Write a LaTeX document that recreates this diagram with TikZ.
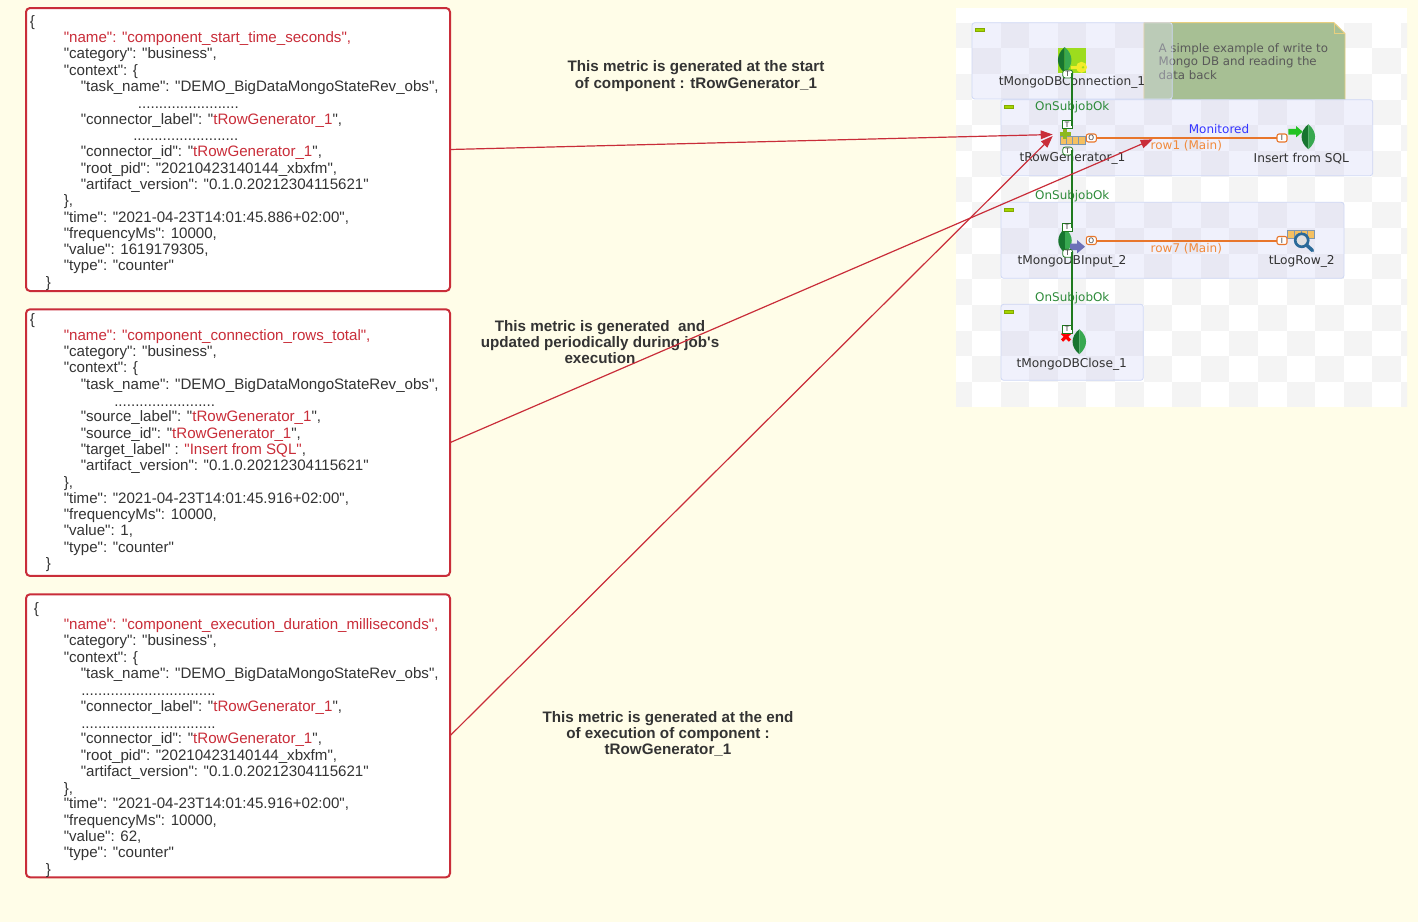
\documentclass[tikz,border=0pt]{standalone}
\usepackage{fontspec}
\setmainfont{Liberation Sans}[Ligatures=TeXOff]
\newfontfamily\djv{DejaVu Sans}
\usetikzlibrary{arrows.meta}
\definecolor{pagebg}{HTML}{FFFDE8}
\definecolor{mred}{HTML}{C92D39}
\definecolor{mtext}{HTML}{333333}
\definecolor{chk}{HTML}{F4F4F4}
\definecolor{sjfill}{HTML}{B8BCF0}
\definecolor{sjline}{HTML}{CFD8F5}
\definecolor{notefill}{HTML}{A7BF94}
\definecolor{noteline}{HTML}{E8CF7F}
\definecolor{wire}{HTML}{1F7A1F}
\definecolor{okgreen}{HTML}{2E8B3A}
\definecolor{orwire}{HTML}{E8762B}
\definecolor{orlab}{HTML}{F08A3C}
\definecolor{cell}{HTML}{F5C060}
\definecolor{cellb}{HTML}{7F96AE}
\definecolor{mini}{HTML}{A4D400}
\definecolor{lime}{HTML}{9DDC1E}
\definecolor{leafd}{HTML}{17752F}
\definecolor{leafl}{HTML}{38A850}
\definecolor{keyc}{HTML}{F2EC2A}
\definecolor{glass}{HTML}{2A6A99}
\definecolor{purp}{HTML}{6C70B8}
\definecolor{garrow}{HTML}{22C322}
\definecolor{plus}{HTML}{8CB81E}
\definecolor{monc}{HTML}{3535FF}
\newcommand{\rd}[1]{\textcolor{mred}{#1}}
\newcommand{\jl}[4]{\node[jline] (#1) at (#2,#3+5) {#4};}
\newcommand{\dotsn}[1]{\foreach \i in {1,...,#1}{.}}
% leaf icon: centre x, centre y, height
\newcommand{\leaf}[3]{%
 \fill[leafd] (#1,#2-#3/2) .. controls (#1-9,#2-#3/5) and (#1-9,#2+#3/5) .. (#1,#2+#3/2) -- cycle;
 \fill[leafl] (#1,#2-#3/2) .. controls (#1+9,#2-#3/5) and (#1+9,#2+#3/5) .. (#1,#2+#3/2) -- cycle;
}
\tikzset{
 x=0.75pt,y=-0.75pt,
 jline/.style={anchor=base west,inner sep=0pt,text=mtext,font=\fontsize{11.33}{13}\selectfont},
 jbox/.style={draw=mred,line width=1.5pt,fill=white,rounded corners=3pt,inner sep=0pt,outer sep=0pt,minimum width=318pt},
 cap3/.style={anchor=center,inner sep=0pt,align=center,text=mtext,font=\bfseries\fontsize{11.4}{12.3}\selectfont},
 sjob/.style={draw=sjline,line width=.6pt,fill=sjfill,fill opacity=.2,rounded corners=2pt},
 mini/.style={draw=mini!80!black,line width=.3pt,fill=mini},
 clab/.style={inner sep=0pt,text=mtext,font=\djv\fontsize{9.15}{10}\selectfont},
 oklab/.style={inner sep=0pt,text=okgreen,font=\djv\fontsize{8.95}{10}\selectfont},
 rlab/.style={inner sep=0pt,text=orlab,font=\djv\fontsize{9}{10}\selectfont},
 tport/.style={draw=wire,line width=.6pt,fill=white,inner sep=0pt,outer sep=0pt,minimum width=7.5pt,minimum height=6pt,text=mtext,font=\djv\fontsize{5.5}{5.5}\selectfont},
 tportr/.style={tport,rounded corners=2pt},
 oport/.style={draw=orwire,line width=.8pt,fill=white,rounded corners=1.5pt,inner sep=0pt,outer sep=0pt,minimum width=7.5pt,minimum height=6pt,text=mtext,font=\djv\fontsize{5.5}{5.5}\selectfont},
 wireln/.style={draw=wire,line width=1.5pt},
 orln/.style={draw=orwire,line width=1.5pt},
 arr/.style={draw=mred,line width=.9pt,-{Triangle[length=9pt,width=6.5pt,fill=mred]}},
}
\begin{document}
\begin{tikzpicture}
\useasboundingbox (0,0) rectangle (1418,922);
\fill[pagebg] (0,0) rectangle (1418,922);
% checker ground
\fill[white] (956,8) rectangle (1407,407);
\begin{scope}
\clip (956,8) rectangle (1407,407);
\foreach \c in {0,...,16}{\foreach \r in {0,...,14}{
 \ifodd\numexpr\c+\r\relax\else
 \fill[chk] ({972+28.6*(\c-1)},{22.7+25.65*\r}) rectangle ++(28.6,25.65);
 \fi}}
\end{scope}
% note
\fill[notefill] (1144,22.7) -- (1334,22.7) -- (1345,33.5) -- (1345,99.7) -- (1144,99.7) -- cycle;
\draw[noteline,line width=.7pt] (1144,99.7) -- (1144,22.7) -- (1334,22.7) -- (1345,33.5) -- (1345,99.7);
\draw[noteline,line width=.6pt] (1334,22.7) -- (1334,33.5) -- (1345,33.5);
\node[anchor=base west,inner sep=0pt,text=black!65,font=\djv\fontsize{8.85}{10}\selectfont] (note1) at (1158.3,52) {A simple example of write to};
\node[anchor=base west,inner sep=0pt,text=black!65,font=\djv\fontsize{8.85}{10}\selectfont] (note2) at (1158.3,65.5) {Mongo DB and reading the};
\node[anchor=base west,inner sep=0pt,text=black!65,font=\djv\fontsize{8.85}{10}\selectfont] (note3) at (1158.3,79) {data back};
% subjobs
\path[sjob] (972,22.7) rectangle (1172.3,99);
\fill[white,opacity=.2] (1144,22.7) rectangle (1172.3,99.7);
\path[sjob] (1001,99.7) rectangle (1372.7,175.7);
\path[sjob] (1001,202.3) rectangle (1344,278.3);
\path[sjob] (1001,304.3) rectangle (1143.3,380.3);
\path[mini] (975.5,28.5) rectangle (984.5,31.5);
\path[mini] (1004,105) rectangle (1013,108);
\path[mini] (1004,207.7) rectangle (1013,210.7);
\path[mini] (1004,310) rectangle (1013,313);
% labels
\node[clab] (lconn) at (1072,82) {tMongoDBConnection\_1};
\node[clab] (lgen) at (1072.5,158.7) {tRowGenerator\_1};
\node[clab] (lins) at (1301.3,158.7) {Insert from SQL};
\node[clab] (linp) at (1072,261.3) {tMongoDBInput\_2};
\node[clab] (llog) at (1301.7,261.3) {tLogRow\_2};
\node[clab] (lclo) at (1071.7,364) {tMongoDBClose\_1};
\node[oklab] (ok1) at (1072.3,107) {OnSubjobOk};
\node[oklab] (ok2) at (1072.3,196.3) {OnSubjobOk};
\node[oklab] (ok3) at (1072.3,298.7) {OnSubjobOk};
\node[inner sep=0pt,text=monc,font=\djv\fontsize{9}{10}\selectfont] (mon) at (1219,129.5) {Monitored};
\node[rlab] (r1) at (1186.3,146) {row1 (Main)};
\node[rlab] (r7) at (1186.3,248.5) {row7 (Main)};
% icons
\fill[lime] (1057.7,48.3) rectangle (1086,73.3);
\leaf{1064.7}{60}{26}
\draw[keyc,line width=2.2pt] (1071,67.3) -- (1078,67.3);
\fill[keyc] (1081.5,67.3) circle (5.5);
\fill[lime] (1083,67.3) circle (1.3);
\foreach \k in {0,...,3}{\draw[cellb,fill=cell,line width=.5pt] ({1060+6.25*\k},136.7) rectangle ++(6.25,7.6);}
\draw[plus,line width=2.6pt] (1065,128.5) -- (1065,139) (1059.5,134) -- (1070.5,134);
\leaf{1308.3}{136.7}{25}
\fill[garrow] (1288.3,128.8) -- (1296,128.8) -- (1296,126) -- (1302.7,131.7) -- (1296,137.4) -- (1296,134.6) -- (1288.3,134.6) -- cycle;
\leaf{1065}{240.7}{25}
\fill[purp] (1070,243.5) -- (1077,243.5) -- (1077,240) -- (1085,246.7) -- (1077,253.4) -- (1077,250) -- (1070,250) -- cycle;
\foreach \k in {0,...,3}{\draw[cellb,fill=cell,line width=.4pt] ({1287.7+6.65*\k},230.3) rectangle ++(6.65,8.4);}
\draw[glass,line width=2pt,fill=black!12] (1301.7,240.3) circle (6.5);
\draw[glass,line width=2.6pt,line cap=round] (1306.5,245) -- (1312.5,250.5);
\draw[red,line width=2.4pt] (1062,333) -- (1070,340.5) (1070,333) -- (1062,340.5);
\leaf{1079.3}{341.7}{25}
% ports and wires
\node[tportr] (tconn) at (1067.7,74) {T};
\node[tport] (tgenin) at (1067,124.7) {T};
\node[tportr] (tgenout) at (1067.7,151) {T};
\node[tport] (tinpin) at (1067,227) {T};
\node[tportr] (tinpout) at (1067.7,253.3) {T};
\node[tport] (tcloin) at (1067,329.3) {T};
\path[wireln] (tconn.east) -- (1071.7,74) -- (1071.7,124.7) -- (tgenin.east);
\path[wireln] (tgenout.east) -- (1071.7,151) -- (1071.7,227) -- (tinpin.east);
\path[wireln] (tinpout.east) -- (1071.7,253.3) -- (1071.7,329.3) -- (tcloin.east);
\node[oport] (o1) at (1091.3,138) {O};
\node[oport] (i1) at (1282,138) {I};
\node[oport] (o7) at (1091.3,240.5) {O};
\node[oport] (i7) at (1282,240.5) {I};
\path[orln] (o1) -- (i1);
\path[orln] (o7) -- (i7);
\coordinate (tipA) at (1052.7,134.5);
\coordinate (tipC) at (1052.7,136);
\coordinate (tipB) at (1152.7,139.3);
% json boxes
\node[jbox,anchor=north west,minimum height=212.25pt] (b1) at (26,8) {};
\node[jbox,anchor=north west,minimum height=200pt] (b2) at (26,309.3) {};
\node[jbox,anchor=north west,minimum height=212.25pt] (b3) at (26,594.3) {};
% box 1
\jl{a1}{29.5}{21}{\{}
\jl{a2}{63.5}{37.5}{\rd{"name": "component\_start\_time\_seconds",}}
\jl{a3}{63.5}{53.7}{"category": "business",}
\jl{a4}{63.5}{70}{"context": \{}
\jl{a5}{80.5}{86}{"task\_name": "DEMO\_BigDataMongoStateRev\_obs",}
\jl{a6}{137.7}{103}{\dotsn{24}}
\jl{a7}{80.5}{119}{"connector\_label": "\rd{tRowGenerator\_1}",}
\jl{a8}{133}{135}{\dotsn{25}}
\jl{a9}{80.5}{151}{"connector\_id": "\rd{tRowGenerator\_1}",}
\jl{a10}{80.5}{168}{"root\_pid": "20210423140144\_xbxfm",}
\jl{a11}{80.5}{184}{"artifact\_version": "0.1.0.20212304115621"}
\jl{a12}{63.5}{200}{\},}
\jl{a13}{63.5}{217}{"time": "2021-04-23T14:01:45.886+02:00",}
\jl{a14}{63.5}{233}{"frequencyMs": 10000,}
\jl{a15}{63.5}{249}{"value": 1619179305,}
\jl{a16}{63.5}{265}{"type": "counter"}
\jl{a17}{45.5}{282}{\}}
% box 2
\jl{c1}{29.5}{319}{\{}
\jl{c2}{63.5}{335}{\rd{"name": "component\_connection\_rows\_total",}}
\jl{c3}{63.5}{351.5}{"category": "business",}
\jl{c4}{63.5}{367.5}{"context": \{}
\jl{c5}{80.5}{384}{"task\_name": "DEMO\_BigDataMongoStateRev\_obs",}
\jl{c6}{114}{401}{\dotsn{24}}
\jl{c7}{80.5}{416.5}{"source\_label": "\rd{tRowGenerator\_1}",}
\jl{c8}{80.5}{433}{"source\_id": "\rd{tRowGenerator\_1}",}
\jl{c9}{80.5}{449}{"target\_label" : \rd{"Insert from SQL"},}
\jl{c10}{80.5}{465}{"artifact\_version": "0.1.0.20212304115621"}
\jl{c11}{63.5}{482}{\},}
\jl{c12}{63.5}{498}{"time": "2021-04-23T14:01:45.916+02:00",}
\jl{c13}{63.5}{514.5}{"frequencyMs": 10000,}
\jl{c14}{63.5}{530.5}{"value": 1,}
\jl{c15}{63.5}{547}{"type": "counter"}
\jl{c16}{45.5}{563}{\}}
% box 3
\jl{d1}{33.5}{608}{\{}
\jl{d2}{63.5}{624}{\rd{"name": "component\_execution\_duration\_milliseconds",}}
\jl{d3}{63.5}{640.5}{"category": "business",}
\jl{d4}{63.5}{657}{"context": \{}
\jl{d5}{80.5}{673}{"task\_name": "DEMO\_BigDataMongoStateRev\_obs",}
\jl{d6}{81}{690}{\dotsn{32}}
\jl{d7}{80.5}{706}{"connector\_label": "\rd{tRowGenerator\_1}",}
\jl{d8}{81}{723}{\dotsn{32}}
\jl{d9}{80.5}{738.5}{"connector\_id": "\rd{tRowGenerator\_1}",}
\jl{d10}{80.5}{755}{"root\_pid": "20210423140144\_xbxfm",}
\jl{d11}{80.5}{771}{"artifact\_version": "0.1.0.20212304115621"}
\jl{d12}{63.5}{788}{\},}
\jl{d13}{63.5}{803.5}{"time": "2021-04-23T14:01:45.916+02:00",}
\jl{d14}{63.5}{820}{"frequencyMs": 10000,}
\jl{d15}{63.5}{836}{"value": 62,}
\jl{d16}{63.5}{852.5}{"type": "counter"}
\jl{d17}{45.5}{869}{\}}
% captions
\node[cap3] (cap1) at (696,76) {This metric is generated at the start\\of component : tRowGenerator\_1};
\node[cap3] (cap2) at (600,342) {This metric is generated\ \ and\\updated periodically during job's\\execution};
\node[cap3] (cap3) at (668,734) {This metric is generated at the end\\of execution of component :\\tRowGenerator\_1};
% arrows
\draw[arr] (b1.east) -- (tipA);
\draw[arr] (b2.east) -- (tipB);
\draw[arr] (b3.east) -- (tipC);
\end{tikzpicture}
\end{document}
